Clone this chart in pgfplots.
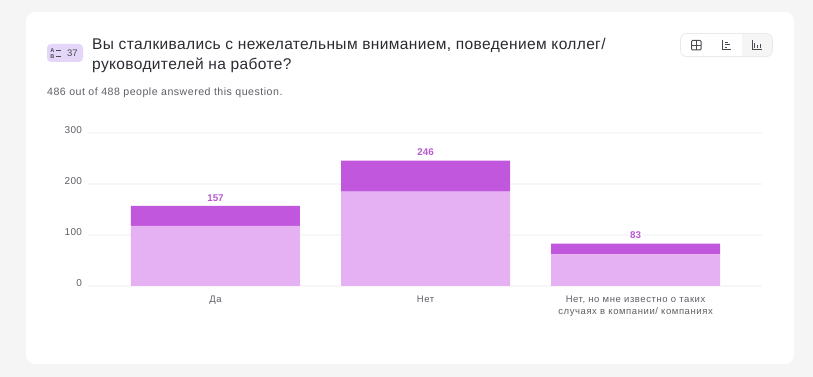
\documentclass[border=0pt]{standalone}
\usepackage{fontspec}
\setmainfont{Liberation Sans}
\usepackage{pgfplots}
\pgfplotsset{compat=1.18}
\definecolor{pagebg}{HTML}{F5F5F6}
\definecolor{dark}{HTML}{C157DC}
\definecolor{light}{HTML}{E6B1F2}
\definecolor{gridc}{HTML}{F7F7F9}
\definecolor{ticktext}{HTML}{5F5F66}
\definecolor{titletext}{HTML}{2B2B33}
\definecolor{badge}{HTML}{E4D6F9}
\definecolor{iconc}{HTML}{4A4A52}
\definecolor{vallab}{HTML}{B95AD2}
\pgfplotsset{chartbox/.style={
  at={(88pt,91pt)},anchor=south west,
  scale only axis,width=674pt,height=153pt,
  xmin=-0.607,xmax=2.602,ymin=0,ymax=300,
  clip=false,
  /pgf/number format/assume math mode=true,
}}
\begin{document}
\begin{tikzpicture}[x=1pt,y=1pt]
\path[use as bounding box] (0,0) rectangle (813,377);
\fill[pagebg] (0,0) rectangle (813,377);
\fill[white,rounded corners=9pt] (26,13) rectangle (794,365);
% badge
\fill[badge,rounded corners=4pt] (47,315) rectangle (83,333);
\node[anchor=center,inner sep=0,font=\fontsize{5.6}{5.6}\selectfont\bfseries,text=iconc] at (52.5,326.5) {A};
\node[anchor=center,inner sep=0,font=\fontsize{5.6}{5.6}\selectfont\bfseries,text=iconc] at (52.5,320.5) {B};
\draw[iconc,line width=1pt] (56,326.5) -- (61,326.5) (56,320.5) -- (61,320.5);
\node[anchor=center,inner sep=0,font=\fontsize{9.5}{10}\selectfont,text=iconc] at (72.5,323.7) {37};
% title
\node[anchor=base west,inner sep=0,font=\fontsize{15.5}{20}\selectfont\addfontfeatures{LetterSpace=2.4},text=titletext] at (92,327.5) {Вы сталкивались с нежелательным вниманием, поведением коллег/};
\node[anchor=base west,inner sep=0,font=\fontsize{15.5}{20}\selectfont\addfontfeatures{LetterSpace=2.4},text=titletext] at (92,307.5) {руководителей на работе?};
\node[anchor=base west,inner sep=0,font=\fontsize{10.6}{12}\selectfont\addfontfeatures{LetterSpace=4.7},text=ticktext] at (47,281) {486 out of 488 people answered this question.};
% toggle
\begin{scope}
\clip[rounded corners=6pt] (680.5,320.5) rectangle (772.5,343.5);
\fill[pagebg] (742,320) rectangle (773,344);
\end{scope}
\draw[gridc!70!gray!50,line width=0.8pt,rounded corners=6pt] (680.5,320.5) rectangle (772.5,343.5);
\draw[iconc,line width=1pt,rounded corners=1pt] (691.5,327) rectangle (701,336.5);
\draw[iconc,line width=1pt] (696.25,327) -- (696.25,336.5) (691.5,331.75) -- (701,331.75);
\draw[iconc,line width=1pt] (722,337) -- (722,327) -- (731,327);
\draw[iconc,line width=1pt] (724.5,334.5) -- (728,334.5) (724.5,332) -- (730,332) (724.5,329.5) -- (727,329.5);
\draw[iconc,line width=1pt] (752,337) -- (752,327) -- (762,327);
\draw[iconc,line width=1pt] (754.5,329) -- (754.5,334) (757.5,329) -- (757.5,331.5) (760,329) -- (760,332.5);
% chart
\begin{axis}[
  chartbox,
  ybar stacked,bar width=169pt,
  axis line style={draw=none},
  major tick style={draw=none},
  ymajorgrids,
  grid style={gridc,line width=1.4pt},
  ytick={0,100,200,300},
  xtick={0,1,2},
  xticklabels={Да,Нет,{Нет, но мне известно о таких\\случаях в компании/ компаниях}},
  yticklabel style={font=\fontsize{10}{10}\selectfont\addfontfeatures{LetterSpace=3},text=ticktext,xshift=-2.5pt,yshift=3.4pt},
  xticklabel style={font=\fontsize{9.5}{12.2}\selectfont\addfontfeatures{LetterSpace=6},text=ticktext,align=center,anchor=north,yshift=-6pt},
]
\addplot[fill=light,draw=none] coordinates {(0,118) (1,185) (2,62)};
\addplot[fill=dark,draw=none] coordinates {(0,39) (1,61) (2,21)};
\end{axis}
\begin{axis}[
  chartbox,
  hide axis,
  point meta=y,
]
\addplot[only marks,mark=none,draw=none,
  nodes near coords={\pgfmathprintnumber{\pgfplotspointmeta}},
  every node near coord/.append style={anchor=south,yshift=4.5pt,fill=white,inner xsep=1.5pt,inner ysep=0pt,font=\fontsize{9.8}{10}\selectfont\bfseries,text=vallab},
] coordinates {(0,157) (1,246) (2,83)};
\end{axis}
\end{tikzpicture}
\end{document}
